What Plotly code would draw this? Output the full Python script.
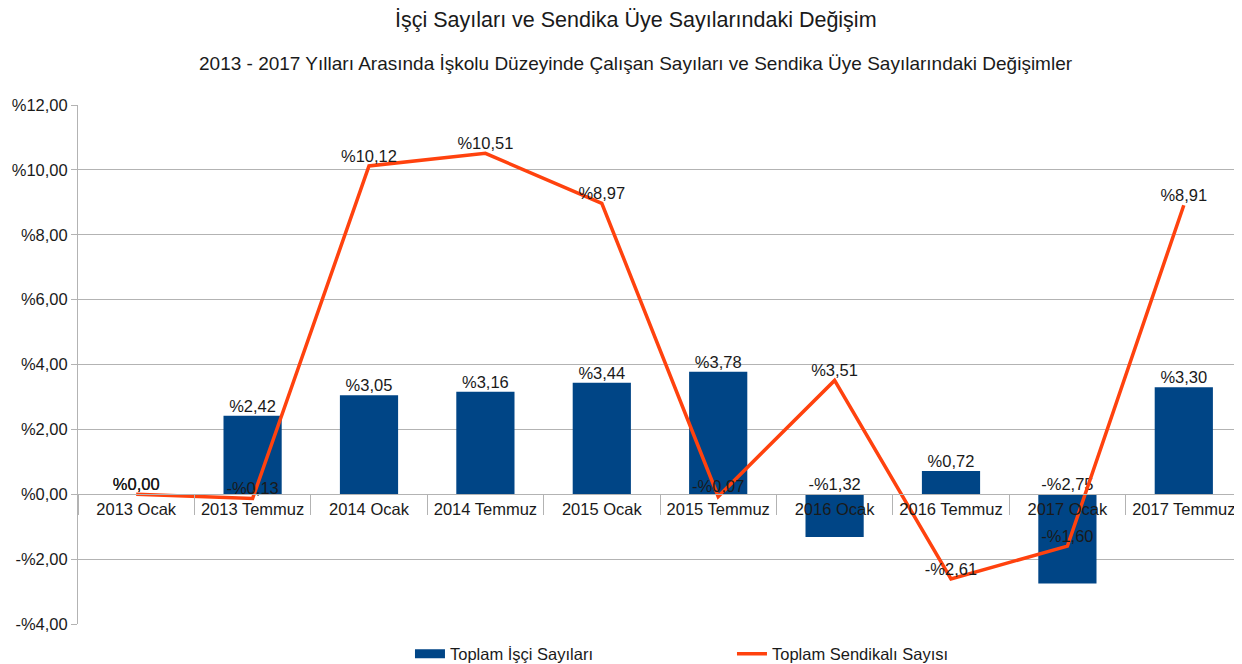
import plotly.graph_objects as go

categories = ["2013 Ocak", "2013 Temmuz", "2014 Ocak", "2014 Temmuz", "2015 Ocak",
              "2015 Temmuz", "2016 Ocak", "2016 Temmuz", "2017 Ocak", "2017 Temmuz"]
isci = [0.00, 2.42, 3.05, 3.16, 3.44, 3.78, -1.32, 0.72, -2.75, 3.30]
sendikali = [0.00, -0.13, 10.12, 10.51, 8.97, -0.07, 3.51, -2.61, -1.60, 8.91]
ytick_vals = [-4, -2, 0, 2, 4, 6, 8, 10, 12]

def fmt(v):
    s = "%" + f"{abs(v):.2f}".replace(".", ",")
    return ("-" + s) if v < 0 else s

FONT = "Liberation Sans, Arial, sans-serif"
BAR = "#004586"
LINE = "#ff420e"
GRID = "#b3b3b3"
TXT = "#1a1a1a"
FS = 16.5

fig = go.Figure()
fig.add_trace(go.Bar(
    x=categories, y=isci, name="Toplam İşçi Sayıları",
    marker=dict(color=BAR, line=dict(width=0)), width=0.5, showlegend=False,
))
# legend proxy for the bar series (wide rectangle swatch)
fig.add_trace(go.Scatter(
    x=[None], y=[None], mode="lines", name="Toplam İşçi Sayıları",
    line=dict(color=BAR, width=9), hoverinfo="skip",
))
# bar labels: above bar end (above zero for negative)
fig.add_trace(go.Scatter(
    x=categories, y=[max(v, 0) for v in isci], mode="text",
    text=[fmt(v) for v in isci], textposition="top center",
    textfont=dict(family=FONT, size=FS, color=TXT),
    showlegend=False, hoverinfo="skip",
))
fig.add_trace(go.Scatter(
    x=categories, y=sendikali, name="Toplam Sendikalı Sayısı",
    mode="lines+text", line=dict(color=LINE, width=3.5),
    text=[fmt(v) for v in sendikali], textposition="top center",
    textfont=dict(family=FONT, size=FS, color=TXT),
))

# page body has an 8px margin, so the figure is 8px smaller and offsets shifted
fig.update_layout(
    width=1234, height=656,
    margin=dict(l=70, r=0, t=97, b=40, autoexpand=False),
    plot_bgcolor="white", paper_bgcolor="white",
    font=dict(family=FONT, size=FS, color=TXT),
    showlegend=True,
    legend=dict(orientation="h", x=0.2852, xanchor="left", y=-0.058, yanchor="middle",
                font=dict(family=FONT, size=FS, color=TXT), entrywidth=277,
                traceorder="normal"),
    xaxis=dict(
        range=[-0.5, 9.5], anchor="free", position=0.25, automargin=False,
        showline=True, linecolor=GRID, linewidth=1,
        ticks="outside", tickson="boundaries", ticklen=20, tickcolor=GRID,
        showgrid=False, tickfont=dict(family=FONT, size=FS, color=TXT),
        fixedrange=True,
    ),
    yaxis=dict(
        range=[-4, 12], tickvals=ytick_vals, ticktext=[fmt(v) for v in ytick_vals],
        automargin=False,
        showgrid=True, gridcolor=GRID, gridwidth=1,
        zeroline=True, zerolinecolor=GRID, zerolinewidth=1,
        showline=True, linecolor=GRID, linewidth=1,
        ticks="outside", ticklen=6, tickcolor=GRID,
        tickfont=dict(family=FONT, size=FS, color=TXT),
    ),
    annotations=[
        dict(text="İşçi Sayıları ve Sendika Üye Sayılarındaki Değişim", xref="paper", yref="paper",
             x=0.4794, y=1.1647, xanchor="center", yanchor="middle", showarrow=False,
             borderpad=0, font=dict(family=FONT, size=21.5, color=TXT)),
        dict(text="2013 - 2017 Yılları Arasında İşkolu Düzeyinde Çalışan Sayıları ve Sendika Üye Sayılarındaki Değişimler",
             xref="paper", yref="paper", x=0.4794, y=1.079, xanchor="center", yanchor="middle",
             showarrow=False, font=dict(family=FONT, size=19, color=TXT)),
    ],
)

fig.write_html("out.html")
